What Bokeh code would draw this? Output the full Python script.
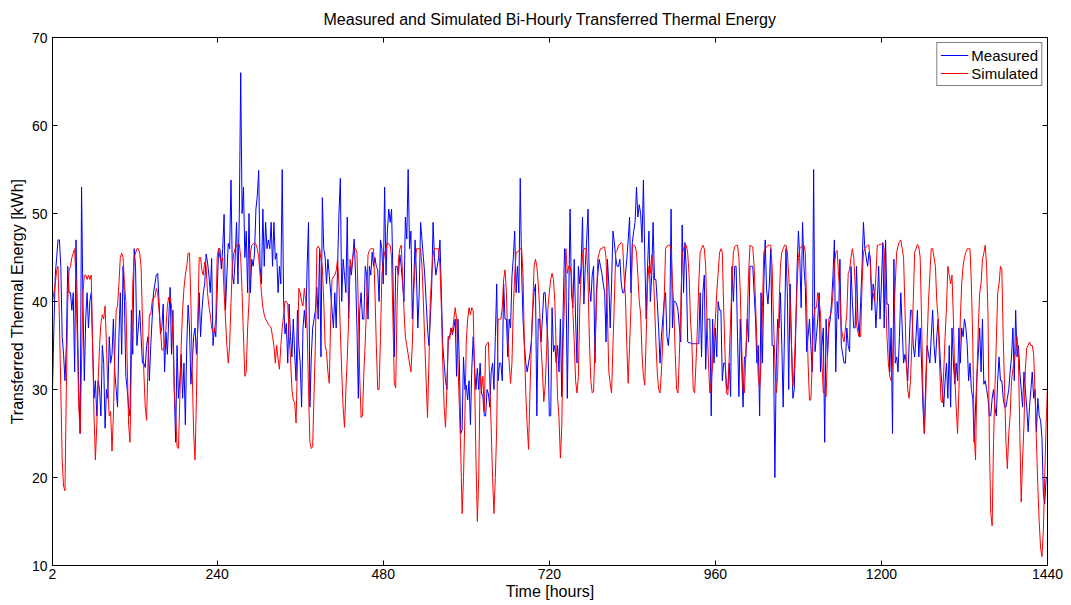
from bokeh.plotting import figure
from bokeh.models import (Range1d, FixedTicker, LinearAxis, Legend, LegendItem,
                          ColumnDataSource)
from bokeh.embed import file_html
from bokeh.resources import INLINE

# Bi-hourly time stamps [hours]
hours = list(range(2, 1441, 2))

# Measured transferred thermal energy per 2-hour step [kWh]
measured = [
    30, 37, 43, 45, 47, 47, 44, 36, 34, 31, 35, 44, 41, 41, 39, 41, 32, 47, 38, 30,
    25, 53, 40, 31, 38, 41, 37, 40, 41, 35, 29, 31, 27, 31, 30, 27, 35, 33, 25.6, 30,
    29, 36, 33, 34, 38, 32, 30, 28, 36, 41, 34, 44, 40, 31.5, 30, 28, 27, 39, 34, 46,
    44, 35, 37, 39, 36, 33, 33, 32.5, 35, 36, 31, 35,
    38, 41, 42, 43, 43.2, 40, 36.3, 37, 39.7, 32, 36.5, 34, 38, 41.6, 34, 39, 30, 24, 35, 29,
    31, 34, 29, 33, 26, 35, 39.6, 37, 30.6, 33, 36, 37, 34, 37, 41, 36, 39, 41, 42, 45.4,
    44.5, 43, 41, 44.9, 35, 37, 36, 41, 46, 46, 43.7, 46, 49.9, 39, 43, 46.6, 46, 53.8, 43, 42,
    45, 49, 42, 50, 66, 50, 53, 45, 48, 41, 50, 41,
    44.8, 44, 45.5, 50.5, 52, 54.9, 44, 42, 50.5, 44, 49, 46, 47, 46, 49, 44, 49, 44.8, 45.5, 41,
    44, 42, 55, 40.2, 36.3, 37.5, 33, 39.7, 36, 33.7, 38, 34, 31, 39, 35, 33, 28, 37, 39, 37,
    44, 49, 28, 33.7, 37, 38, 39, 41.6, 38, 46, 33.7, 51.8, 46, 45, 42, 44.8, 43, 41, 39, 37,
    41, 37, 44, 50, 54, 40, 44.8, 43, 41, 49.6, 38, 44,
    43, 45, 47.1, 43, 37, 29, 39, 41, 38, 38, 44, 43, 38, 44, 43, 45.6, 44, 45, 44, 43.6,
    40, 47, 46, 42, 53, 43, 48, 50.5, 49, 50.5, 43, 33.7, 44, 44, 43, 45.3, 44, 42, 40, 49.6,
    47.1, 55, 46, 48, 38, 42, 47, 43, 37, 41, 49, 47, 45, 43, 40, 37, 35, 38, 41.6, 49,
    45, 43, 44, 45, 47, 41, 35, 33, 31, 30, 36, 36,
    37, 36.2, 37, 38, 31.5, 38, 33, 25, 25.4, 33.7, 30, 30.5, 28.8, 31, 26, 32.4, 36, 32.4, 30, 32.4,
    30, 33, 29.6, 29.2, 27, 27, 30, 29.5, 28, 32, 33, 30, 36, 42, 31, 33, 33, 31, 42, 38,
    38, 33.7, 38, 37, 42.8, 45, 48, 41, 44, 41, 54, 43.6, 38, 35, 33, 32, 33, 34, 35.4, 39,
    41, 42, 27, 38, 38, 35.4, 38, 41, 41, 38, 35.4, 27,
    27, 39.3, 34.3, 35, 33, 35, 32, 38, 29.2, 39, 46, 43.2, 29, 40, 50.5, 41, 39.3, 44.8, 38, 33,
    44, 42, 44, 49.6, 39.7, 44, 47, 50.5, 41.6, 40, 43, 44, 33, 41, 43, 44.8, 44, 43.2, 42, 41,
    35.4, 44.8, 42, 37, 42, 48, 46.7, 45, 44, 44, 44.8, 42, 41, 41, 43, 44.8, 47, 49.6, 41, 46.7,
    48, 49, 53, 49.6, 51, 50, 46.7, 53.8, 45, 38, 44, 48,
    40, 43, 49, 42.5, 42.5, 40, 37, 33, 36, 38, 40, 41, 36, 35, 37, 50.5, 37, 40, 40, 39.7,
    39, 37, 35.4, 48.7, 41, 46.7, 43.6, 35.4, 35.3, 35.3, 35.2, 35.2, 35.2, 35.2, 35.2, 35.2, 41, 33.7, 41, 43,
    32.3, 38, 38, 38, 27, 38, 33, 37, 33.7, 40, 39, 39, 31, 33, 33, 30.4, 30, 33, 29.2, 44,
    40, 44, 44, 36, 29.2, 38, 33, 28, 33.7, 33.7, 38, 35.4,
    44, 44, 44, 41, 38, 33, 35, 27, 41, 33, 42, 47, 41.4, 39.7, 42, 46, 35, 35, 20, 33,
    38, 37, 41, 35, 28, 37, 46, 41, 30, 42, 35, 29, 30, 36, 43.6, 48, 45, 39.3, 49, 44,
    41.6, 34.3, 36, 38, 35, 32, 55, 34.3, 36, 38, 41, 32, 35, 37, 24, 38, 33.7, 37, 38, 40,
    43, 47, 32, 40, 38, 44.8, 35, 34, 33, 33, 37, 35,
    34.3, 44, 40, 37, 37, 44, 38, 36, 40, 44, 49, 46, 45, 44, 45.6, 45, 39, 42, 41, 37,
    40, 44, 38, 42, 46.7, 37, 47, 39.7, 39.7, 32, 37, 25, 44.8, 33, 33.7, 32, 36, 41, 37, 33,
    34, 33, 31, 35, 39, 39, 35, 33.7, 36, 39, 33.7, 37, 33, 28, 25, 31, 35, 34, 33, 36,
    39, 35, 33, 36, 38, 35, 32, 30, 28, 31, 33, 29,
    35, 28, 37, 33, 30.6, 33, 31, 37, 33, 37, 36, 38, 37, 35, 31, 33, 30, 29, 24, 28,
    31.5, 34, 37, 32, 38, 30.6, 31, 30, 29, 27, 27, 29, 30, 28, 27, 31, 33.7, 31, 31, 29,
    28, 28, 29, 30, 32, 33.7, 37, 31, 39, 33.7, 35, 32, 30, 28, 32, 30, 28, 25.2, 28, 30,
    32, 29, 30, 25.2, 29, 27, 26.5, 24.5, 18.3, 17, 19.8, 20,
]

# Simulated transferred thermal energy per 2-hour step [kWh]
simulated = [
    40, 41, 42, 43.5, 44, 38, 30, 22, 19, 18.5, 30, 40, 43.5, 44, 45, 45.5, 46, 42, 35, 28,
    25, 33, 41, 43, 43, 42.5, 43, 42.5, 43, 35, 27, 22, 26, 31, 35, 37.5, 38.5, 38, 39.5, 35,
    30, 27, 27.5, 23, 27, 34, 39, 39.5, 42, 45, 45.5, 45, 42, 40, 33, 26, 24, 33, 42, 45,
    45.5, 46, 46, 45.5, 44, 38, 32, 28, 26.5, 33, 38.5, 38.5,
    40, 40.5, 40.5, 41.5, 41, 39, 37, 34.5, 34.5, 35, 37, 39.5, 40.5, 40.5, 39.5, 36, 30, 27, 23.5, 23.3,
    29, 35, 39, 41.5, 43, 44, 45.5, 45.5, 40, 32, 25, 22, 29, 38, 45, 45, 43.5, 43, 44.5, 44,
    41, 39.5, 38.5, 37, 36.5, 36.5, 38, 45, 46, 45, 44.5, 45, 41, 38, 35, 33, 35, 40, 44, 45.5,
    46, 46.3, 46.5, 46.5, 45, 41, 36, 31.5, 32, 37, 40, 45.5,
    46.4, 46.5, 46.7, 46.5, 46, 45, 43, 41, 39.3, 38.5, 38, 37.7, 37.4, 37.2, 37, 36, 35, 33, 35, 33.5,
    32.3, 35, 37, 38.5, 40, 40, 39.7, 36, 33.5, 30, 28.8, 28.5, 26.2, 33, 41.5, 41, 40, 39.5, 41.5, 40,
    37, 30, 24, 23.3, 23.5, 29.6, 35.4, 46, 46.3, 46, 44.8, 44, 40, 35, 34.3, 32, 30.7, 38, 42.5, 42.8,
    43, 43.5, 44.8, 42, 36.6, 32, 28, 25.7, 30, 33.5, 38, 44.8,
    43.6, 45, 46, 46, 45.5, 39.3, 31.5, 26.8, 27, 32, 35.4, 40, 45.3, 45.8, 46, 46, 46, 41, 35, 30,
    30, 36, 43, 44.5, 45.6, 46, 46.7, 46.5, 46.4, 45, 38, 30.7, 30.2, 39.7, 44.8, 46, 46.4, 43, 39, 36,
    35, 34, 33, 32, 35, 41, 44, 46, 46, 46, 46, 44, 40, 35.4, 31, 26.8, 33, 40, 43, 45.3,
    46, 46, 46, 46, 44, 39.3, 33, 28, 25.7, 30, 36, 35.7,
    37, 36.5, 38, 39.3, 38, 33, 28, 23, 15.9, 20, 27, 35.4, 38, 39.3, 38.5, 39.3, 39, 31.5, 22, 15,
    20, 31.5, 30, 31.5, 27.5, 35, 35.2, 35.4, 30.5, 25.7, 20, 15.9, 20, 25.7, 38, 38, 38, 39.3, 42.5, 43.6,
    41, 36, 33, 30.7, 33, 39.3, 43, 45.6, 45.6, 45.8, 46, 46, 43, 35, 29.6, 26, 23.2, 29.6, 35, 39.3,
    44, 44.8, 44, 42, 39.3, 35, 32.3, 28.6, 30.4, 34, 39.3, 41,
    42.5, 43.2, 42.5, 40, 34.3, 29, 26.8, 22.2, 25.7, 35.4, 40, 46, 43.2, 44, 44, 43, 39, 35.4, 31, 29.6,
    31.5, 39.3, 43, 45.3, 46, 46, 46, 42, 35.4, 31, 29.6, 29.8, 35, 39.3, 44.8, 45.5, 46, 46, 46.2, 46.2,
    45, 38.6, 32, 30.7, 29.6, 35, 40, 45.6, 45.8, 46.4, 46.5, 46.7, 46.5, 43, 40.6, 35, 30.7, 35, 39.3, 46.4,
    46.4, 46.3, 45.6, 43, 40, 38.6, 34, 31.5, 30.5, 36, 42, 44,
    43.2, 45.3, 44, 40, 35.4, 32, 30, 29.6, 32, 35.4, 40, 46, 46.3, 46.4, 46.4, 46, 42, 39.3, 34, 30,
    29.6, 34, 39.3, 45.3, 46, 46.4, 46.4, 45.5, 43, 38, 35.4, 30, 29.6, 33, 37, 42, 45.6, 46, 46.4, 46,
    44, 37.4, 33, 29.6, 31, 32.7, 36, 38, 41, 43.2, 45.5, 46, 45.6, 39.3, 34, 29.6, 29.4, 33.5, 38, 42,
    45.6, 46.2, 46.4, 46.4, 45, 41, 35, 30, 29.6, 34, 38, 43,
    46.4, 46.3, 46.2, 44, 40, 35.4, 31.5, 30, 33, 39.3, 45.6, 46, 46.2, 46.4, 46.4, 46.4, 44, 38, 33, 29.6,
    31.5, 39.3, 44, 45.6, 46, 46.4, 46.4, 45.6, 43, 40, 35, 30.4, 32.3, 37, 41.6, 45, 46, 46.2, 46.4, 46.4,
    45.6, 39.3, 33, 28.8, 28.8, 33, 38, 39.3, 39.3, 41, 40, 38.6, 33, 29.6, 29.8, 29.2, 34, 38, 38.4, 39,
    41, 44, 45.6, 45.8, 43, 41, 37, 36, 35.4, 37, 38.6, 43.2,
    43.6, 45, 46, 45, 42, 37.4, 36.5, 36, 36, 42, 45.6, 46, 46.2, 46.4, 46.4, 44, 41, 41, 40, 43,
    46.4, 46.4, 46.5, 46.5, 46.5, 46, 41, 36, 33, 31.5, 31, 33, 38, 42, 45.6, 46.3, 46.8, 47, 46, 45,
    39.3, 33, 30, 29, 31, 35.4, 40, 45.6, 46, 46.5, 46.2, 45, 38, 30, 25, 29, 35.4, 40, 43, 46,
    46, 45, 44, 40, 38, 33, 28.8, 28.5, 32, 36, 39.3, 44,
    43, 42, 43, 38, 31.5, 28, 25, 30, 38, 42, 44, 45, 45.6, 46, 46, 46, 42, 35.4, 25, 22,
    31.5, 37, 41, 42, 44.8, 45.5, 46.4, 44, 38.6, 24, 16, 14.5, 24, 30, 35.4, 41, 42, 44, 43.6, 36,
    30, 24, 21, 25, 27, 31, 32.3, 33.5, 34.3, 36, 33.5, 25, 17.2, 22, 26, 32.3, 34.7, 35, 35.4, 35,
    35, 34, 29.6, 24, 19, 15, 12, 11, 14, 20, 26, 30.5,
]

x_ticks = [2, 240, 480, 720, 960, 1200, 1440]
y_ticks = [10, 20, 30, 40, 50, 60, 70]

FONT = "Liberation Sans"

source = ColumnDataSource(data=dict(hours=hours, measured=measured, simulated=simulated))

p = figure(width=1071, height=605, output_backend="svg", toolbar_location=None,
           x_range=Range1d(2, 1440), y_range=Range1d(10, 70),
           min_border_left=52, min_border_right=24, min_border_top=37, min_border_bottom=40,
           title="Measured and Simulated Bi-Hourly Transferred Thermal Energy")

p.background_fill_color = "white"
p.border_fill_color = "white"
p.outline_line_color = "black"
p.outline_line_width = 1
p.xgrid.visible = False
p.ygrid.visible = False

p.title.align = "center"
p.title.vertical_align = "middle"
p.title.text_font = FONT
p.title.text_font_size = "16px"
p.title.text_font_style = "normal"
p.title.text_color = "black"
p.title.standoff = 17


def style_axis(ax, ticks, show_labels):
    ax.ticker = FixedTicker(ticks=ticks)
    ax.axis_line_color = "black"
    ax.major_tick_line_color = "black"
    ax.major_tick_in = 5
    ax.major_tick_out = 0
    ax.minor_tick_line_color = None
    ax.major_label_text_font = FONT
    if show_labels:
        ax.major_label_text_font_size = "14px"
        ax.major_label_text_color = "black"
    else:
        # mirror axis: tick marks only, labels not painted
        ax.major_label_text_font_size = "1px"
        ax.major_label_text_color = None
        ax.major_label_standoff = 0
    ax.axis_label_text_font = FONT
    ax.axis_label_text_font_size = "16px"
    ax.axis_label_text_font_style = "normal"
    ax.axis_label_text_color = "black"


style_axis(p.xaxis[0], x_ticks, True)
style_axis(p.yaxis[0], y_ticks, True)
p.xaxis[0].axis_label = "Time [hours]"
p.xaxis[0].major_label_standoff = 3
p.xaxis[0].axis_label_standoff = 1
p.yaxis[0].axis_label = "Transferred Thermal Energy [kWh]"
p.yaxis[0].major_label_standoff = 5
p.yaxis[0].axis_label_standoff = 3

top_axis = LinearAxis()
style_axis(top_axis, x_ticks, False)
p.add_layout(top_axis, "above")
right_axis = LinearAxis()
style_axis(right_axis, y_ticks, False)
p.add_layout(right_axis, "right")

r_meas = p.line("hours", "measured", source=source, line_color="#0000ff", line_width=1)
r_sim = p.line("hours", "simulated", source=source, line_color="#ff0000", line_width=1)

legend = Legend(items=[LegendItem(label="Measured", renderers=[r_meas]),
                       LegendItem(label="Simulated", renderers=[r_sim])],
                location="top_right")
legend.margin = 5
legend.padding = 3
legend.spacing = 0
legend.glyph_width = 28
legend.glyph_height = 18
legend.label_height = 18
legend.label_standoff = 3
legend.label_text_font = FONT
legend.label_text_font_size = "15px"
legend.label_text_color = "black"
legend.border_line_color = "black"
legend.border_line_width = 1
legend.background_fill_color = "white"
legend.background_fill_alpha = 1.0
p.add_layout(legend)

open("out.html", "w").write(file_html(p, INLINE))
